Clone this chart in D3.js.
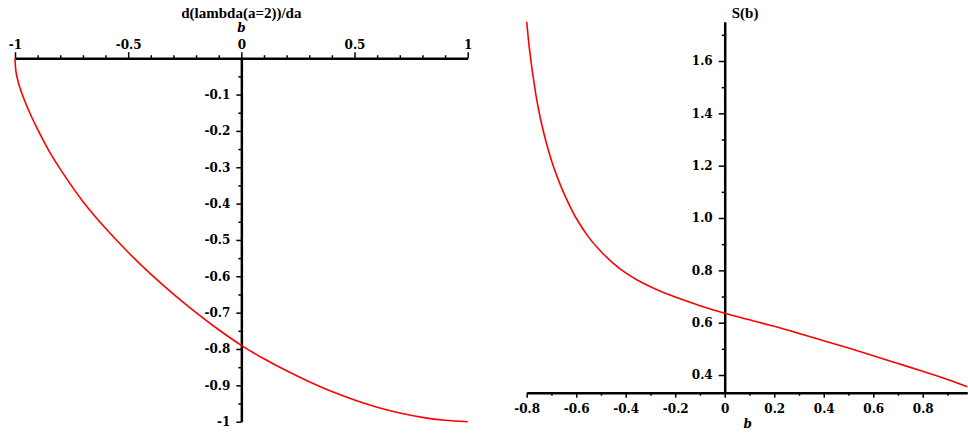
<!DOCTYPE html>
<html>
<head>
<meta charset="utf-8">
<script src="https://cdn.jsdelivr.net/npm/d3@7"></script>
<style>
  html, body { margin: 0; padding: 0; background: #fff; }
  svg { display: block; }
</style>
</head>
<body>
<script>
// ---- Data ----
const leftTitle = "d(lambda(a=2))/da";
const rightTitle = "S(b)";
const axisLabel = "b";

const leftB = [-1, -0.995, -0.98, -0.96, -0.93, -0.9, -0.85, -0.8, -0.7, -0.6, -0.5, -0.4, -0.3, -0.2, -0.1,
               0, 0.1, 0.2, 0.3, 0.4, 0.5, 0.6, 0.7, 0.8, 0.9, 1.0];
const leftVal = [0, -0.04, -0.078, -0.113, -0.157, -0.196, -0.255, -0.305, -0.394, -0.468, -0.534, -0.594, -0.649, -0.700, -0.747,
                 -0.790, -0.827, -0.860, -0.890, -0.917, -0.940, -0.960, -0.976, -0.988, -0.996, -1.0];

const rightB = [-0.8, -0.79, -0.78, -0.77, -0.76, -0.75, -0.74, -0.72, -0.70, -0.68, -0.66, -0.64, -0.62, -0.60,
                -0.55, -0.50, -0.45, -0.40, -0.35, -0.30, -0.25, -0.20, -0.10, 0, 0.1, 0.2, 0.3, 0.4, 0.5, 0.6, 0.7, 0.8, 0.9, 0.98];
const rightVal = [1.750, 1.655, 1.580, 1.515, 1.455, 1.405, 1.360, 1.285, 1.220, 1.165, 1.117, 1.074, 1.035, 0.999,
                  0.927, 0.872, 0.827, 0.790, 0.761, 0.737, 0.716, 0.698, 0.665, 0.636, 0.611, 0.586, 0.559, 0.531, 0.503, 0.474, 0.444, 0.414, 0.383, 0.355];

const leftXTicks = [-1, -0.5, 0, 0.5, 1];
const leftXMinor = [-0.9, -0.8, -0.7, -0.6, -0.4, -0.3, -0.2, -0.1, 0.1, 0.2, 0.3, 0.4, 0.6, 0.7, 0.8, 0.9];
const leftYTicks = [-0.1, -0.2, -0.3, -0.4, -0.5, -0.6, -0.7, -0.8, -0.9, -1];
const leftYMinor = [-0.05, -0.15, -0.25, -0.35, -0.45, -0.55, -0.65, -0.75, -0.85, -0.95];
const rightXTicks = [-0.8, -0.6, -0.4, -0.2, 0, 0.2, 0.4, 0.6, 0.8];
const rightXMinor = [-0.7, -0.5, -0.3, -0.1, 0.1, 0.3, 0.5, 0.7, 0.9];
const rightYTicks = [0.4, 0.6, 0.8, 1.0, 1.2, 1.4, 1.6];
const rightYMinor = [0.5, 0.7, 0.9, 1.1, 1.3, 1.5, 1.7];

// ---- Drawing ----
const W = 968, H = 433;
const SERIF = "DejaVu Serif";
const TIMES = "Liberation Serif";
const svg = d3.select("body").append("svg").attr("width", W).attr("height", H);

const fmtL = d => (d < 0 ? "-" : "") + String(Math.abs(d));
const fmt1 = d => d === 0 ? "0" : (d < 0 ? "-" : "") + Math.abs(d).toFixed(1);

function styleAxis(g) {
  g.attr("font-family", SERIF).attr("font-size", 12).attr("font-weight", "bold");
  g.select(".domain").attr("stroke", "#000").attr("stroke-width", 2.5);
  g.selectAll(".tick line").attr("stroke", "#000").attr("stroke-width", 1.5);
  g.selectAll(".tick text").attr("fill", "#000");
}
function minorAxis(g) {
  g.select(".domain").remove();
  g.selectAll(".tick line").attr("stroke", "#000").attr("stroke-width", 1.5);
}

// Left panel
const xL = d3.scaleLinear().domain([-1, 1]).range([15, 467.7]);
const yL = d3.scaleLinear().domain([-1, 0]).range([421.7, 58.2]);

svg.append("g").attr("transform", `translate(0,${yL(0)})`)
  .call(d3.axisTop(xL).tickValues(leftXMinor).tickSize(3).tickFormat("").tickSizeOuter(0)).call(minorAxis);
svg.append("g").attr("transform", `translate(0,${yL(0)})`)
  .call(d3.axisTop(xL).tickValues(leftXTicks).tickSize(6).tickPadding(3).tickSizeOuter(0).tickFormat(fmtL)).call(styleAxis);

svg.append("g").attr("transform", `translate(${xL(0)},0)`)
  .call(d3.axisLeft(yL).tickValues(leftYMinor).tickSize(3).tickFormat("").tickSizeOuter(0)).call(minorAxis);
svg.append("g").attr("transform", `translate(${xL(0)},0)`)
  .call(d3.axisLeft(yL).tickValues(leftYTicks).tickSize(5).tickPadding(6).tickSizeOuter(0).tickFormat(fmtL)).call(styleAxis);

svg.append("text").attr("x", xL(0)).attr("y", 18).attr("text-anchor", "middle")
  .attr("font-family", TIMES).attr("font-weight", "bold").attr("font-size", 15).text(leftTitle);
svg.append("text").attr("x", xL(0)).attr("y", 32).attr("text-anchor", "middle")
  .attr("font-family", SERIF).attr("font-size", 12).attr("font-style", "italic").attr("font-weight", "bold").text(axisLabel);

const leftData = leftB.map((b, i) => [b, leftVal[i]]);
svg.append("path").datum(leftData)
  .attr("fill", "none").attr("stroke", "#ff0000").attr("stroke-width", 1.6)
  .attr("d", d3.line().x(d => xL(d[0])).y(d => yL(d[1])).curve(d3.curveCatmullRom.alpha(0.5)));

// Right panel
const xR = d3.scaleLinear().domain([-0.8, 0.98]).range([526.7, 967.3]);
const yR = d3.scaleLinear().domain([0.3324, 1.75]).range([392.7, 21.75]);

svg.append("g").attr("transform", `translate(0,${yR(0.3324)})`)
  .call(d3.axisBottom(xR).tickValues(rightXMinor).tickSize(3).tickFormat("").tickSizeOuter(0)).call(minorAxis);
svg.append("g").attr("transform", `translate(0,${yR(0.3324)})`)
  .call(d3.axisBottom(xR).tickValues(rightXTicks).tickSize(5).tickPadding(7).tickSizeOuter(0).tickFormat(fmt1)).call(styleAxis);

svg.append("g").attr("transform", `translate(${xR(0)},0)`)
  .call(d3.axisLeft(yR).tickValues(rightYMinor).tickSize(3).tickFormat("").tickSizeOuter(0)).call(minorAxis);
svg.append("g").attr("transform", `translate(${xR(0)},0)`)
  .call(d3.axisLeft(yR).tickValues(rightYTicks).tickSize(6).tickPadding(6).tickSizeOuter(0).tickFormat(d => d.toFixed(1))).call(styleAxis);

svg.append("text").attr("x", xR(0) + 7).attr("y", 18).attr("text-anchor", "start")
  .attr("font-family", TIMES).attr("font-weight", "bold").attr("font-size", 15).text(rightTitle);
svg.append("text").attr("x", xR(0) + 23).attr("y", 428).attr("text-anchor", "middle")
  .attr("font-family", SERIF).attr("font-size", 12).attr("font-style", "italic").attr("font-weight", "bold").text(axisLabel);

const rightData = rightB.map((b, i) => [b, rightVal[i]]);
svg.append("path").datum(rightData)
  .attr("fill", "none").attr("stroke", "#ff0000").attr("stroke-width", 1.6)
  .attr("d", d3.line().x(d => xR(d[0])).y(d => yR(d[1])).curve(d3.curveCatmullRom.alpha(0.5)));
</script>
</body>
</html>
